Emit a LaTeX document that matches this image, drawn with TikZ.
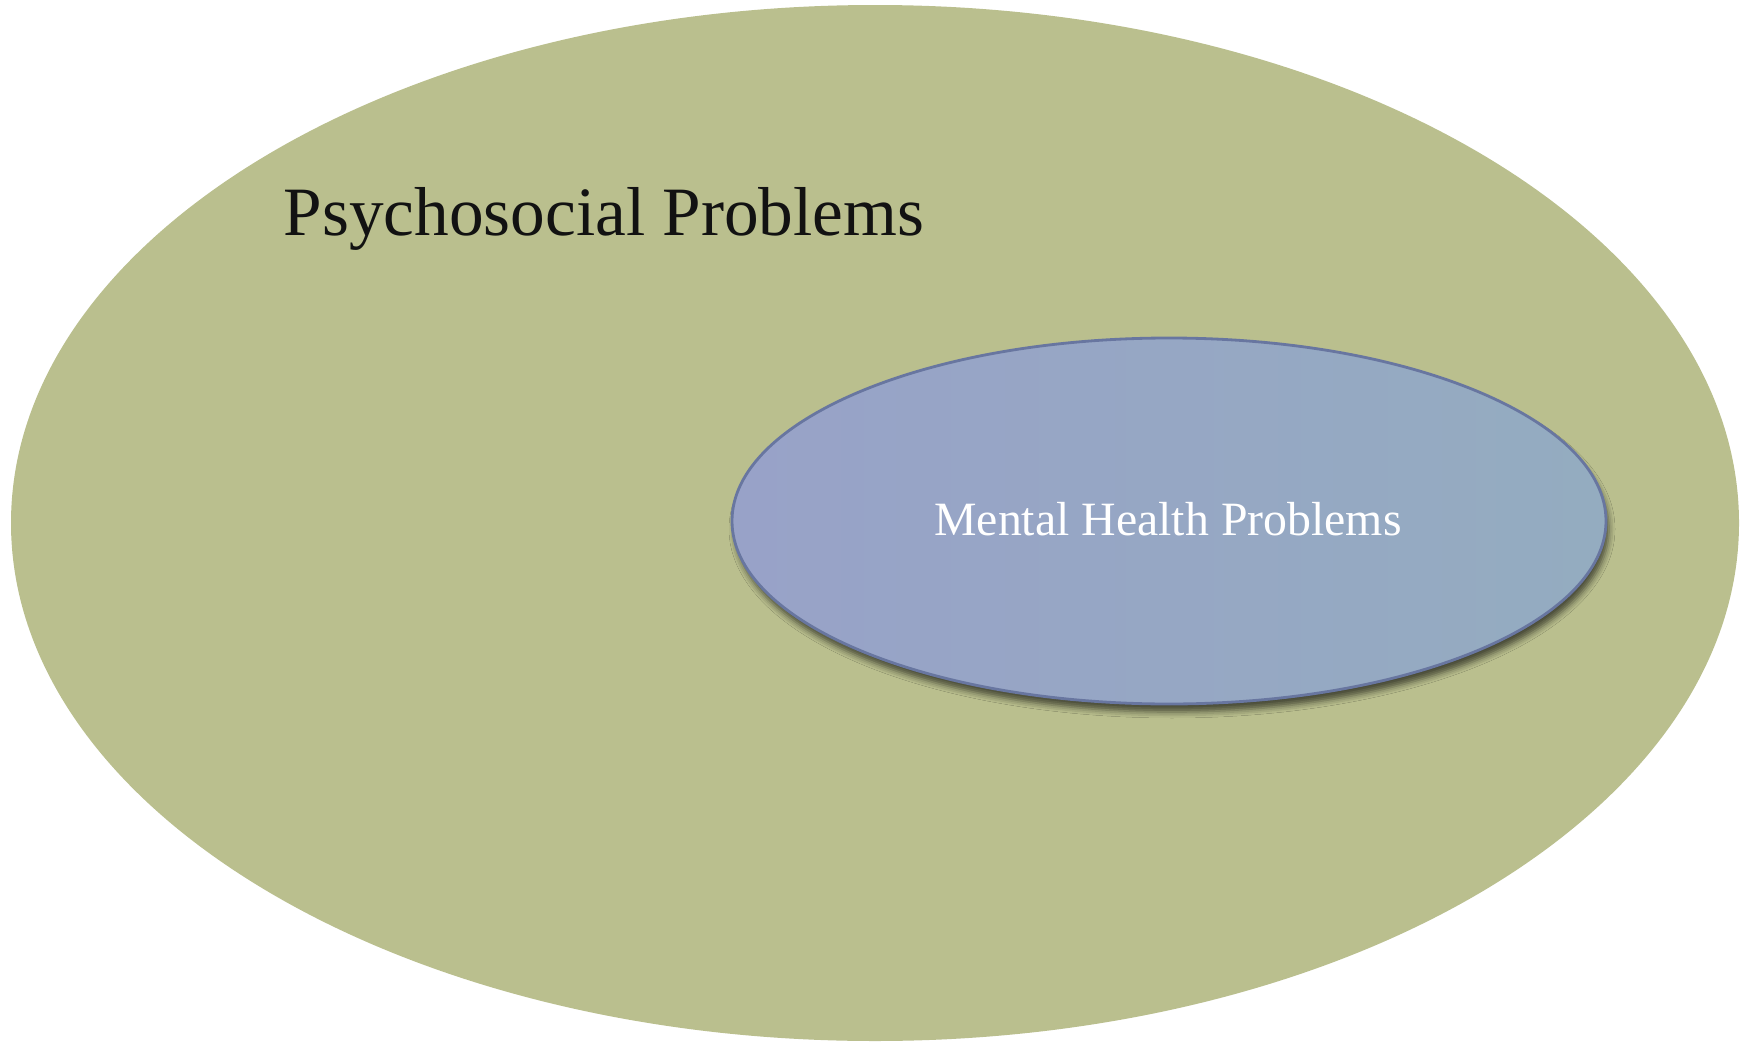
\documentclass[tikz,border=0pt]{standalone}
\usepackage{fontspec}
\setmainfont{Liberation Serif}
\usetikzlibrary{shadows.blur}

\definecolor{psyfill}{RGB}{186,191,142}
\definecolor{mhleft}{RGB}{152,162,200}
\definecolor{mhright}{RGB}{148,172,192}
\definecolor{mhedge}{RGB}{104,118,160}

\tikzset{
    psyblob/.style={fill=psyfill},
    mhblob/.style={left color=mhleft, right color=mhright, draw=mhedge, line width=0.8pt,
        blur shadow={shadow xshift=0.03cm, shadow yshift=-0.08cm,
                     shadow blur radius=0.06cm, shadow opacity=60}},
}

\begin{document}
\begin{tikzpicture}

    \useasboundingbox (0,0) rectangle (17.52,10.41);

    % Draw outer ellipse for psychosocial problems.
    \fill[psyblob] (8.75,5.18) ellipse [x radius=8.64, y radius=5.18];
    \node (psylabel) at (2.83,8.06) [anchor=base west, text=black!93,
        font=\fontsize{19.7}{24}\selectfont, inner sep=0pt]{Psychosocial Problems};

    % Draw inner ellipse for mental health problems.
    \path[mhblob] (11.69,5.20) ellipse [x radius=4.37, y radius=1.83];
    \node (mhlabel) at (11.68,5.22) [white, font=\fontsize{13.6}{16}\selectfont,
        inner sep=0pt]{Mental Health Problems};

\end{tikzpicture}
\end{document}
